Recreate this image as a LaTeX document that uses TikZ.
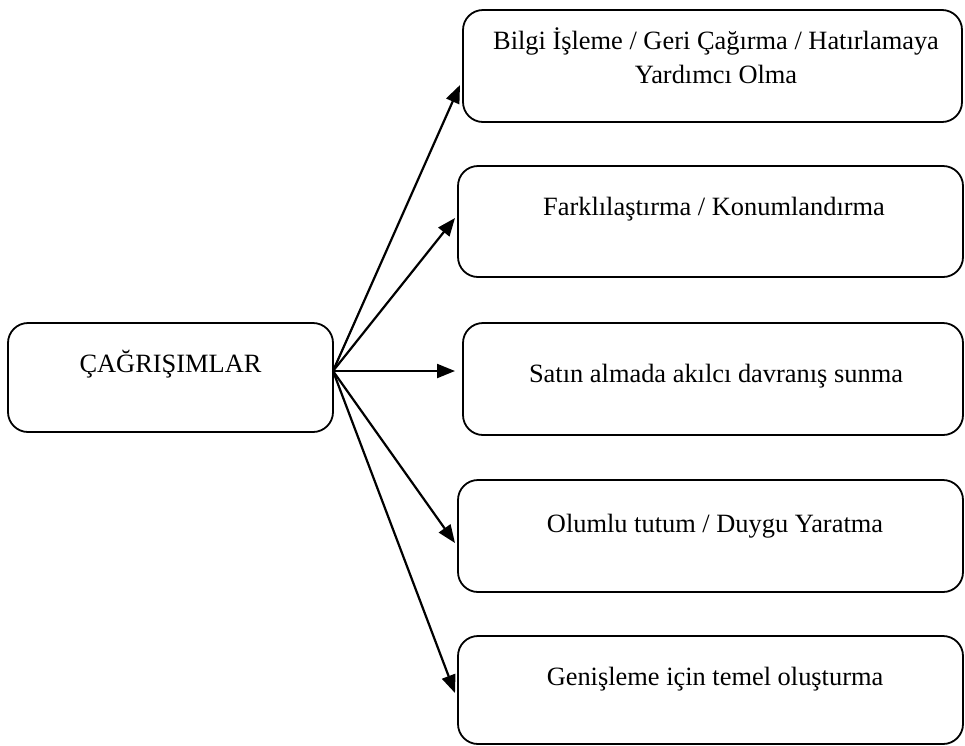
\documentclass[tikz,border=0pt]{standalone}
\usepackage{fontspec}
\setmainfont{Liberation Serif}
\usetikzlibrary{arrows.meta}
\begin{document}
\begin{tikzpicture}[x=1pt,y=-1pt,
  box/.style={draw,line width=1.8pt,rounded corners=20pt,anchor=north west,inner sep=0pt,outer sep=0pt},
  lbl/.style={anchor=base,inner sep=0pt,align=center,font=\fontsize{26.4}{34}\selectfont},
  link/.style={line width=2.2pt,-{Triangle[length=18pt,width=14pt]}}]
\useasboundingbox (0,0) rectangle (965,745);

% boxes
\node[box,minimum width=325pt,minimum height=109pt] (src) at (8,323) {};
\node[box,minimum width=499pt,minimum height=112pt] (b1) at (463,10) {};
\node[box,minimum width=505pt,minimum height=111pt] (b2) at (458,166) {};
\node[box,minimum width=500pt,minimum height=112pt] (b3) at (463,323) {};
\node[box,minimum width=505pt,minimum height=112pt] (b4) at (458,480) {};
\node[box,minimum width=505pt,minimum height=108pt] (b5) at (458,636) {};

% labels (base anchor of a two-line label sits on its last line)
\node[lbl] (srct) at (170.5,372) {ÇAĞRIŞIMLAR};
\node[lbl] (t1) at (716,83) {Bilgi İşleme / Geri Çağırma / Hatırlamaya\\Yardımcı Olma};
\node[lbl] (t2) at (714,215) {Farklılaştırma / Konumlandırma};
\node[lbl] (t3) at (716,382) {Satın almada akılcı davranış sunma};
\node[lbl] (t4) at (715,532) {Olumlu tutum / Duygu Yaratma};
\node[lbl] (t5) at (715,685) {Genişleme için temel oluşturma};

% connectors fanning out from one point on the source box
\coordinate (hub) at ([yshift=6.5pt]src.east);
\draw[link] (hub) -- ([shift={(-3pt,-19pt)}]b1.west);
\draw[link] (hub) -- ([shift={(-3pt,3.5pt)}]b2.west);
\draw[link] (hub) -- ([shift={(-8pt,8pt)}]b3.west);
\draw[link] (hub) -- ([shift={(-3pt,-7pt)}]b4.west);
\draw[link] (hub) -- ([shift={(-3pt,-3pt)}]b5.west);
\end{tikzpicture}
\end{document}
